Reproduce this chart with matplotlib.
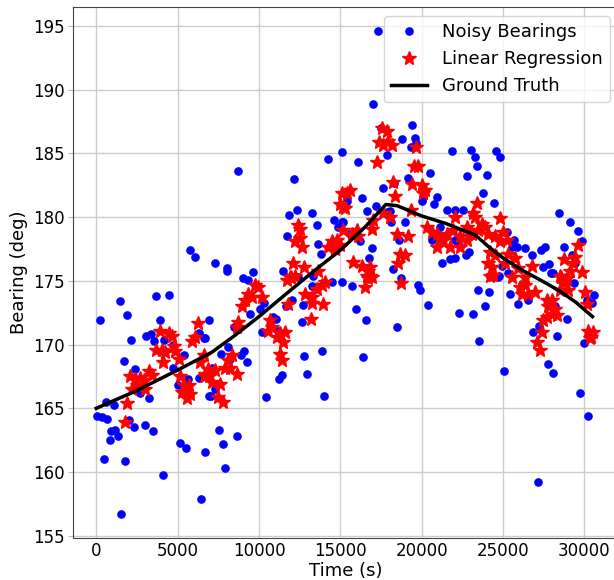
import numpy as np
import matplotlib
matplotlib.use("Agg")
import matplotlib.pyplot as plt

# Raw bearing measurements (time in s, bearing in deg)
noisy_points = [
    (61, 164.4), (227, 171.9), (350, 164.3), (492, 161.0), (596, 165.5), (676, 164.2),
    (842, 162.5), (922, 163.2), (1088, 165.3), (1168, 163.3), (1315, 162.8), (1438, 173.4),
    (1537, 156.7), (1684, 168.7), (1782, 160.9), (1905, 172.3), (2028, 164.1), (2133, 170.4),
    (2298, 163.5), (2378, 168.1), (2667, 166.2), (2975, 163.7), (3055, 170.7), (3239, 165.8),
    (3343, 170.8), (3466, 163.2), (3565, 170.3), (3688, 173.8), (3934, 171.9), (4080, 159.8),
    (4180, 170.4), (4450, 173.9), (4695, 170.0), (4714, 168.2), (5021, 166.8), (5125, 162.3),
    (5371, 169.2), (5494, 161.9), (5655, 167.3), (5777, 177.4), (6048, 176.9), (6290, 170.9),
    (6290, 167.4), (6453, 157.9), (6600, 170.5), (6680, 161.6), (6680, 170.5), (6908, 166.0),
    (6927, 171.9), (7031, 166.0), (7092, 168.2), (7295, 176.4), (7295, 166.5), (7541, 163.3),
    (7664, 169.3), (7805, 162.2), (7910, 160.3), (8014, 175.8), (8051, 176.0), (8113, 169.8),
    (8217, 168.9), (8481, 171.4), (8666, 162.8), (8727, 183.6), (8893, 169.2), (8998, 175.2),
    (9096, 169.5), (9244, 168.6), (9305, 175.1), (9447, 172.4), (9612, 175.7), (10061, 172.8),
    (10202, 171.0), (10325, 173.3), (10430, 165.9), (10841, 172.2), (11045, 172.0), (11148, 171.1),
    (11247, 167.3), (11395, 167.6), (11493, 175.8), (11659, 173.0), (11740, 178.5), (11860, 180.2),
    (12009, 173.5), (12170, 183.0), (12350, 180.6), (12415, 175.3), (12624, 171.8), (12685, 173.1),
    (12784, 169.1), (12968, 167.7), (13240, 174.6), (13275, 180.3), (13337, 175.4), (13545, 179.4),
    (13645, 177.9), (13810, 177.1), (13890, 169.5), (14013, 166.0), (14260, 184.6), (14467, 174.9),
    (14610, 179.8), (14870, 179.2), (15082, 185.1), (15082, 179.6), (15082, 174.9), (15162, 179.6),
    (15389, 181.3), (15592, 178.7), (15697, 174.6), (15943, 172.8), (16066, 184.3), (16207, 178.1),
    (16311, 181.5), (16410, 169.0), (16557, 171.9), (16618, 180.5), (16778, 176.8), (16926, 177.6),
    (17006, 188.9), (17172, 180.9), (17295, 194.6), (17479, 187.0), (17602, 182.3), (17848, 184.9),
    (17848, 180.4), (18052, 180.5), (18094, 179.6), (18217, 175.9), (18315, 182.7), (18462, 171.4),
    (18622, 178.2), (18708, 175.2), (18808, 186.1), (18973, 179.6), (19175, 183.1), (19323, 185.5),
    (19385, 187.2), (19588, 186.2), (19649, 185.8), (19753, 174.7), (19895, 174.3), (19999, 181.3),
    (20097, 181.6), (20368, 173.1), (20510, 183.5), (20613, 178.2), (20755, 181.0), (20958, 181.6),
    (21124, 179.2), (21228, 176.4), (21535, 180.6), (21738, 176.7), (21843, 185.2), (22046, 180.6),
    (22046, 178.2), (22046, 176.8), (22249, 178.0), (22310, 172.5), (22556, 180.6), (22722, 177.0),
    (22765, 183.2), (22906, 177.3), (23030, 185.3), (23170, 172.4), (23275, 184.7), (23380, 184.0),
    (23477, 174.3), (23539, 170.3), (23785, 181.9), (23890, 173.0), (23994, 183.3), (24135, 174.1),
    (24197, 175.4), (24400, 175.3), (24461, 181.1), (24565, 185.2), (24707, 175.3), (24750, 175.4),
    (24811, 184.7), (24916, 176.2), (25076, 167.9), (25223, 178.8), (25321, 175.6), (25426, 174.0),
    (25567, 177.7), (25690, 178.2), (25837, 177.7), (25936, 173.2), (26348, 177.6), (26550, 173.5),
    (26760, 177.0), (26858, 171.0), (27128, 159.2), (27227, 171.5), (27330, 177.4), (27473, 176.1),
    (27580, 177.7), (27742, 168.5), (27823, 176.3), (27946, 175.6), (28088, 175.6), (28088, 167.8),
    (28192, 173.0), (28333, 170.7), (28438, 180.3), (28763, 177.7), (28911, 174.9), (28948, 172.0),
    (29114, 179.6), (29218, 177.0), (29378, 174.8), (29420, 176.4), (29624, 178.9), (29728, 166.2),
    (29870, 178.1), (29974, 170.1), (30140, 173.5), (30238, 164.4), (30447, 173.3), (30588, 173.9),
]

# Bearings from the windowed linear regression
fit_points = [
    (1745, 163.9), (1887, 165.4), (2090, 167.5), (2194, 166.5), (2397, 167.3), (2501, 166.8),
    (2704, 167.4), (2913, 167.2), (3012, 166.5), (3220, 167.9), (3423, 167.6), (3688, 169.6),
    (3934, 171.1), (4038, 169.6), (4080, 168.6), (4241, 169.4), (4487, 170.9), (4653, 170.7),
    (4794, 169.9), (4855, 169.5), (5064, 168.9), (5163, 167.5), (5267, 166.3), (5371, 166.8),
    (5574, 165.8), (5679, 166.8), (5777, 166.1), (5882, 170.3), (6048, 170.6), (6250, 171.7),
    (6392, 168.6), (6600, 169.2), (6680, 167.5), (6700, 167.7), (6883, 168.1), (6945, 167.5),
    (7092, 167.1), (7295, 168.0), (7500, 165.9), (7603, 166.9), (7805, 165.5), (7910, 168.2),
    (8113, 168.8), (8217, 168.2), (8322, 169.2), (8629, 171.4), (8629, 167.7), (8727, 171.8),
    (8936, 173.0), (9139, 173.5), (9342, 174.0), (9551, 173.7), (9754, 174.7), (9956, 174.5),
    (10166, 173.7), (10571, 171.1), (10676, 171.9), (10780, 171.4), (11088, 170.6), (11290, 170.9),
    (11290, 169.3), (11395, 168.8), (11493, 170.2), (11597, 171.0), (11700, 175.1), (11800, 173.2),
    (11905, 175.3), (11967, 175.3), (12070, 176.4), (12212, 178.1), (12212, 175.4), (12377, 179.4),
    (12520, 179.1), (12520, 178.4), (12660, 177.7), (12783, 176.1), (12827, 174.0), (13196, 172.0),
    (13240, 173.3), (13276, 173.7), (13545, 174.4), (13645, 175.8), (13853, 174.7), (13952, 173.2),
    (14056, 174.9), (14260, 177.7), (14467, 178.1), (14672, 177.5), (14775, 178.2), (14975, 181.0),
    (14978, 177.8), (15120, 181.9), (15180, 180.8), (15180, 179.0), (15285, 180.7), (15389, 181.9),
    (15592, 182.1), (15697, 178.7), (15758, 176.5), (16004, 179.0), (16103, 178.5), (16311, 176.2),
    (16514, 174.5), (16618, 175.4), (16717, 175.2), (16717, 175.8), (16822, 176.1), (16822, 175.4),
    (16926, 179.1), (16926, 175.3), (17024, 179.8), (17233, 184.3), (17393, 185.9), (17541, 187.0),
    (17639, 185.7), (17639, 180.3), (17848, 186.8), (17946, 186.0), (18052, 180.0), (18155, 185.7),
    (18217, 182.8), (18358, 181.7), (18462, 178.7), (18561, 176.4), (18665, 177.1), (18708, 174.8),
    (18973, 177.0), (19175, 178.5), (19323, 180.6), (19385, 182.6), (19526, 184.0), (19649, 185.5),
    (19790, 184.0), (19999, 182.5), (20097, 181.9), (20202, 182.1), (20343, 179.2), (20614, 178.8),
    (20921, 178.7), (20921, 177.7), (21124, 178.3), (21327, 178.2), (21535, 178.7), (21738, 177.7),
    (21941, 179.0), (22046, 180.0), (22353, 178.5), (22353, 177.7), (22765, 178.2), (22765, 179.2),
    (23072, 178.7), (23170, 180.3), (23275, 180.0), (23380, 181.1), (23478, 179.0), (23687, 179.5),
    (23890, 179.2), (24093, 178.7), (24093, 176.4), (24197, 177.3), (24197, 175.4), (24301, 176.1),
    (24400, 175.5), (24504, 178.5), (24504, 177.0), (24811, 179.9), (24811, 178.1), (25014, 178.8),
    (25119, 176.4), (25223, 178.2), (25321, 177.1), (25530, 175.3), (25733, 176.8), (25936, 176.0),
    (26041, 174.5), (26143, 174.0), (26348, 175.3), (26348, 174.7), (26550, 174.0), (26760, 176.2),
    (26961, 174.1), (27066, 170.2), (27270, 169.6), (27373, 171.0), (27473, 171.9), (27681, 173.5),
    (27681, 172.2), (27780, 173.0), (27988, 173.5), (27988, 172.4), (28192, 172.8), (28296, 172.3),
    (28499, 175.4), (28499, 174.3), (28560, 175.3), (28702, 174.8), (28763, 176.7), (28806, 175.1),
    (28911, 175.2), (29009, 174.3), (29114, 175.8), (29317, 176.4), (29420, 176.9), (29624, 177.8),
    (29833, 175.7), (30036, 174.1), (30140, 173.2), (30238, 171.1), (30343, 170.5), (30404, 170.6),
    (30545, 171.0),
]

# True target bearing
truth_time = [0, 2500, 5000, 7100, 8500, 10000, 11500, 13400, 15000, 16500, 17800, 18500,
              20000, 21500, 22500, 23300, 24100, 25000, 26100, 27400, 28500, 29500, 30500]
truth_bearing = [165.0, 166.4, 168.0, 169.4, 170.7, 172.2, 173.8, 175.8, 177.4, 179.2, 181.0, 180.9,
                 180.1, 179.5, 179.0, 178.6, 177.7, 176.8, 175.9, 175.0, 174.2, 173.3, 172.2]


def plot_bearings():
    noisy = np.array(noisy_points)
    fit = np.array(fit_points)

    fig = plt.figure(figsize=(6.14, 5.8), dpi=100)
    ax = fig.add_subplot(111)
    # axes runs slightly past the right edge of the figure
    fig.subplots_adjust(left=0.119, right=1.008, top=0.988, bottom=0.073)

    ax.plot(noisy[:, 0], noisy[:, 1], "o", color="blue", ms=5.2, label="Noisy Bearings")
    ax.plot(fit[:, 0], fit[:, 1], "*", color="red", ms=10, label="Linear Regression")
    ax.plot(truth_time, truth_bearing, color="black", lw=2.5, label="Ground Truth")

    ax.set_xlim(-1425, 32125)
    ax.set_ylim(154.85, 196.5)
    ax.set_yticks(np.arange(155, 196, 5))
    ax.set_xlabel("Time (s)", fontsize=13, labelpad=1.5)
    ax.set_ylabel("Bearing (deg)", fontsize=13, labelpad=4)
    ax.tick_params(labelsize=12)
    ax.tick_params(axis="x", length=0, pad=3)
    ax.tick_params(axis="y", length=3.5, color="#bbbbbb", pad=2.5)
    for spine in ax.spines.values():
        spine.set_color("#444444")
    ax.grid(True, color="#cccccc", lw=1)
    ax.legend(loc="upper right", fontsize=13, numpoints=1)

    fig.savefig("out.png", dpi=100)


if __name__ == "__main__":
    plot_bearings()
